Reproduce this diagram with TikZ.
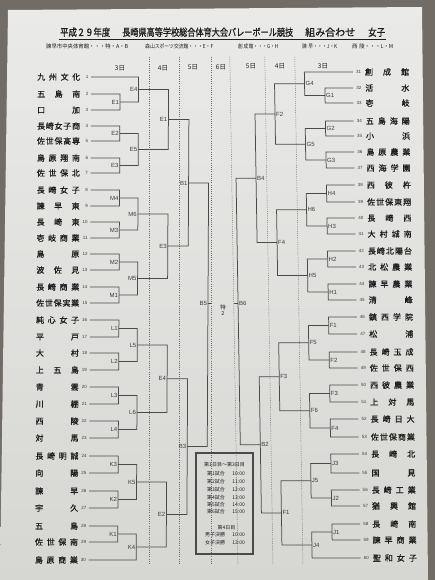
\documentclass[tikz,border=0pt]{standalone}
\usepackage{fontspec}
\newfontfamily\cjk{Noto Sans CJK JP}
\newfontfamily\cjkb{Noto Sans CJK JP}[FakeBold=1.0]
\newfontfamily\lab{Liberation Sans}
\usetikzlibrary{calc}
\definecolor{bgc}{HTML}{726C66}
\definecolor{paperT}{HTML}{EAEAE8}
\definecolor{paperB}{HTML}{D6D6D3}
\definecolor{linec}{HTML}{4A4A4A}
\definecolor{txtc}{HTML}{1E1E1E}
\definecolor{labc}{HTML}{3C3C3C}
\definecolor{sepc}{HTML}{6E6E6E}
\makeatletter
\def\spreadtxt#1{\spread@#1\@nil}
\def\spread@#1#2\@nil{#1\if\relax\detokenize{#2}\relax\else\hfill\spread@#2\@nil\fi}
\makeatother
\tikzset{
  br/.style={draw=linec, line width=0.75pt},
  sepline/.style={draw=sepc, line width=0.45pt, dash pattern=on 1pt off 1.2pt},
  lbl/.style={font=\lab\fontsize{6}{6}\selectfont, text=labc, inner sep=0.9pt},
  tnum/.style={font=\lab\fontsize{4.5}{4.5}\selectfont, text=labc, inner sep=0pt},
  tname/.style={font=\cjkb\fontsize{8}{8}\selectfont, text=txtc, inner sep=0pt},
  hdr/.style={font=\cjk\fontsize{6.5}{6.5}\selectfont, text=txtc, inner sep=0pt},
  boxt/.style={font=\cjk\fontsize{5}{5}\selectfont, text=txtc, inner sep=0pt},
  ttl/.style={text=txtc, inner sep=0pt}
}
\newcommand\Lteam[3]{%
  \node[tname,anchor=west] (nL#1) at (36,#2) {\makebox[43pt]{\spreadtxt{#3}}};
  \node[tnum,anchor=east] (numL#1) at (87.5,#2) {#1};
  \coordinate (t#1) at (90,#2);}
\newcommand\Rteam[3]{%
  \coordinate (t#1) at (356.5,#2);
  \node[tnum,anchor=west] (numR#1) at (359.5,#2) {#1};
  \node[tname,anchor=west] (nR#1) at (368.5,#2) {\makebox[44pt]{\spreadtxt{#3}}};}
\newcommand\Lm[6]{%
  \coordinate (#1) at (#5,#6);
  \draw[br] (#3) -| (#1) |- (#4);
  \node[lbl,anchor=east] (#1l) at (#1) {#2};}
\newcommand\Rm[6]{%
  \coordinate (#1) at (#5,#6);
  \draw[br] (#3) -| (#1) |- (#4);
  \node[lbl,anchor=west] (#1l) at (#1) {#2};}
\begin{document}
\begin{tikzpicture}[x=1pt,y=-1pt]
\useasboundingbox (0,0) rectangle (435,580);
\fill[bgc] (0,0) rectangle (435,580);
\shade[top color=paperT, bottom color=paperB] (8,10) -- (422,7) -- (428,580) -- (0,580) -- cycle;

% title
\node[ttl,anchor=base west] (title1) at (60,36) {\resizebox{50pt}{8.5pt}{\cjkb 平成２９年度}};
\node[ttl,anchor=base west] (title2) at (122,36) {\resizebox{171pt}{8.5pt}{\cjkb 長崎県高等学校総合体育大会バレーボール競技}};
\node[ttl,anchor=base west] (title3) at (305,36) {\resizebox{50pt}{8.5pt}{\cjkb 組み合わせ}};
\node[ttl,anchor=base west] (title4) at (368,36) {\resizebox{17pt}{8.5pt}{\cjkb 女子}};
\draw[draw=txtc, line width=0.5pt] (59,39) -- (386,39);
% venues
\node[ttl,anchor=base west] (ven1) at (46,49) {\resizebox{82pt}{4.6pt}{\cjk 諫早市中央体育館・・・特・A・B}};
\node[ttl,anchor=base west] (ven2) at (145,49) {\resizebox{68pt}{4.6pt}{\cjk 森山スポーツ交流館・・・E・F}};
\node[ttl,anchor=base west] (ven3) at (238,49) {\resizebox{40pt}{4.6pt}{\cjk 創\,成\,館・・・G・H}};
\node[ttl,anchor=base west] (ven4) at (302,49) {\resizebox{35pt}{4.6pt}{\cjk 諫\,\,早・・・J・K}};
\node[ttl,anchor=base west] (ven5) at (352,49) {\resizebox{41pt}{4.6pt}{\cjk 西\,\,陵・・・L・M}};

% day headers
\node[hdr] (h1) at (120,68) {3日};
\node[hdr] (h2) at (163,68) {4日};
\node[hdr] (h3) at (193,67.5) {5日};
\node[hdr] (h4) at (221,67) {6日};
\node[hdr] (h5) at (251,66.5) {5日};
\node[hdr] (h6) at (280,66) {4日};
\node[hdr] (h7) at (323,66) {3日};

% separators left
\draw[sepline] (149,57) -- (149,565);
\draw[sepline] (179,57) -- (179,565);
\draw[sepline] (211,57) -- (211,565);

% ---------------- left side
\begin{scope}[shift={(0,300)}, xslant=0.005, shift={(0,-300)}]
\Lteam{1}{77}{九州文化}
\Lteam{2}{94}{五島南}
\Lteam{3}{110}{口加}
\Lteam{4}{126}{長崎女子商}
\Lteam{5}{141}{佐世保高専}
\Lteam{6}{158}{島原翔南}
\Lteam{7}{173}{佐世保北}
\Lteam{8}{190}{長崎女子}
\Lteam{9}{206}{諫早東}
\Lteam{10}{222}{長崎東}
\Lteam{11}{238}{壱岐商業}
\Lteam{12}{254}{島原}
\Lteam{13}{270}{波佐見}
\Lteam{14}{287}{長崎商業}
\Lteam{15}{303}{佐世保実業}
\Lteam{16}{320}{純心女子}
\Lteam{17}{337}{平戸}
\Lteam{18}{353}{大村}
\Lteam{19}{370}{上五島}
\Lteam{20}{387}{青雲}
\Lteam{21}{404}{川棚}
\Lteam{22}{421}{西陵}
\Lteam{23}{438}{対馬}
\Lteam{24}{456}{長崎明誠}
\Lteam{25}{473}{向陽}
\Lteam{26}{491}{諫早}
\Lteam{27}{508}{宇久}
\Lteam{28}{526}{五島}
\Lteam{29}{542}{佐世保南}
\Lteam{30}{560}{島原商業}

\Lm{LE1}{E1}{t2}{t3}{119}{102}
\Lm{LE4}{E4}{t1}{LE1}{137.5}{89.5}
\Lm{LE2}{E2}{t4}{t5}{119}{133.5}
\Lm{LE3}{E3}{t6}{t7}{119}{165.5}
\Lm{LE5}{E5}{LE2}{LE3}{137.5}{149.5}
\Lm{LdE1}{E1}{LE4}{LE5}{167.5}{119.5}
\Lm{LM4}{M4}{t8}{t9}{119}{198}
\Lm{LM3}{M3}{t10}{t11}{119}{230}
\Lm{LM6}{M6}{LM4}{LM3}{137.5}{214}
\Lm{LM2}{M2}{t12}{t13}{119}{262}
\Lm{LM1}{M1}{t14}{t15}{119}{295}
\Lm{LM5}{M5}{LM2}{LM1}{137.5}{278.5}
\Lm{LdE3}{E3}{LM6}{LM5}{167.5}{246}
\Lm{LB1}{B1}{LdE1}{LdE3}{188}{183}
\Lm{LL1}{L1}{t16}{t17}{119}{328.5}
\Lm{LL2}{L2}{t18}{t19}{119}{361.5}
\Lm{LL5}{L5}{LL1}{LL2}{137.5}{345}
\Lm{LL3}{L3}{t20}{t21}{119}{395.5}
\Lm{LL4}{L4}{t22}{t23}{119}{429.5}
\Lm{LL6}{L6}{LL3}{LL4}{137.5}{412.5}
\Lm{LdE4}{E4}{LL5}{LL6}{167.5}{378.75}
\Lm{LK3}{K3}{t24}{t25}{119}{464.5}
\Lm{LK2}{K2}{t26}{t27}{119}{499.5}
\Lm{LK5}{K5}{LK3}{LK2}{137.5}{482}
\Lm{LK1}{K1}{t28}{t29}{119}{534}
\Lm{LK4}{K4}{LK1}{t30}{137.5}{547}
\Lm{LdE2}{E2}{LK5}{LK4}{167.5}{514.5}
\Lm{LB3}{B3}{LdE4}{LdE2}{188}{446.6}
\Lm{LB5}{B5}{LB1}{LB3}{208}{303}
\coordinate (LB5e) at (212.5,303);
\draw[br] (LB5) -- (LB5e);
\end{scope}

% ---------------- right side
\begin{scope}[shift={(0,300)}, xslant=-0.016, shift={(0,-300)}]
\draw[sepline] (233.7,57) -- (233.7,565);
\draw[sepline] (268.7,57) -- (268.7,565);
\draw[sepline] (298.7,57) -- (298.7,565);
\Rteam{31}{72}{創成館}
\Rteam{32}{88}{活水}
\Rteam{33}{103}{壱岐}
\Rteam{34}{121}{五島海陽}
\Rteam{35}{136}{小浜}
\Rteam{36}{152}{島原農業}
\Rteam{37}{168}{西海学園}
\Rteam{38}{185}{西彼杵}
\Rteam{39}{202}{佐世保東翔}
\Rteam{40}{218}{長崎西}
\Rteam{41}{234}{大村城南}
\Rteam{42}{251}{長崎北陽台}
\Rteam{43}{267}{北松農業}
\Rteam{44}{284}{諫早農業}
\Rteam{45}{300}{清峰}
\Rteam{46}{317}{鎮西学院}
\Rteam{47}{334}{松浦}
\Rteam{48}{352}{長崎玉成}
\Rteam{49}{368}{佐世保西}
\Rteam{50}{385}{西彼農業}
\Rteam{51}{402}{上対馬}
\Rteam{52}{419}{長崎日大}
\Rteam{53}{437}{佐世保商業}
\Rteam{54}{454}{長崎北}
\Rteam{55}{473}{国見}
\Rteam{56}{490}{長崎工業}
\Rteam{57}{506}{猶興館}
\Rteam{58}{524}{長崎南}
\Rteam{59}{540}{諫早商業}
\Rteam{60}{558}{聖和女子}

\Rm{RG1}{G1}{t32}{t33}{328.3}{95.5}
\Rm{RG4}{G4}{t31}{RG1}{308}{83.75}
\Rm{RG2}{G2}{t34}{t35}{328.3}{128.5}
\Rm{RG3}{G3}{t36}{t37}{328.3}{160}
\Rm{RG5}{G5}{RG2}{RG3}{308}{144.25}
\Rm{RdF2}{F2}{RG4}{RG5}{278}{114}
\Rm{RH4}{H4}{t38}{t39}{328.3}{193.5}
\Rm{RH3}{H3}{t40}{t41}{328.3}{226}
\Rm{RH6}{H6}{RH4}{RH3}{308}{209.75}
\Rm{RH2}{H2}{t42}{t43}{328.3}{259}
\Rm{RH1}{H1}{t44}{t45}{328.3}{292}
\Rm{RH5}{H5}{RH2}{RH1}{308}{275.5}
\Rm{RdF4}{F4}{RH6}{RH5}{278}{242.6}
\Rm{RB4}{B4}{RdF2}{RdF4}{258}{178.3}
\Rm{RF1}{F1}{t46}{t47}{328.3}{325.5}
\Rm{RF2}{F2}{t48}{t49}{328.3}{360}
\Rm{RF5}{F5}{RF1}{RF2}{308}{342.75}
\Rm{RF3}{F3}{t50}{t51}{328.3}{393.5}
\Rm{RF4}{F4}{t52}{t53}{328.3}{428}
\Rm{RF6}{F6}{RF3}{RF4}{308}{410.75}
\Rm{RdF3}{F3}{RF5}{RF6}{278}{376.75}
\Rm{RJ3}{J3}{t54}{t55}{328.3}{463.5}
\Rm{RJ2}{J2}{t56}{t57}{328.3}{498}
\Rm{RJ5}{J5}{RJ3}{RJ2}{308}{480.75}
\Rm{RJ1}{J1}{t58}{t59}{328.3}{532}
\Rm{RJ4}{J4}{RJ1}{t60}{308}{545}
\Rm{RdF1}{F1}{RJ5}{RJ4}{278}{512.9}
\Rm{RB2}{B2}{RdF3}{RdF1}{258}{444.8}
\Rm{RB6}{B6}{RB4}{RB2}{238}{303}
\coordinate (RB6e) at (233.5,303);
\draw[br] (RB6) -- (RB6e);
\end{scope}

% final
\node[boxt, font=\cjk\fontsize{5.5}{6.5}\selectfont, align=center] (fin) at (223,310) {特\\2};

% schedule box
\draw[draw=linec, line width=1.3pt] (196,453) rectangle (253,554);
\node[boxt] (sch0) at (224.5,465) {第1日目～第3日目};
\node[boxt,anchor=west] (s1a) at (207,474) {第1試合};
\node[boxt,anchor=east] (s1b) at (245,474) {10:00};
\node[boxt,anchor=west] (s2a) at (207,482) {第2試合};
\node[boxt,anchor=east] (s2b) at (245,482) {11:00};
\node[boxt,anchor=west] (s3a) at (207,490) {第3試合};
\node[boxt,anchor=east] (s3b) at (245,490) {12:00};
\node[boxt,anchor=west] (s4a) at (207,498) {第4試合};
\node[boxt,anchor=east] (s4b) at (245,498) {13:00};
\node[boxt,anchor=west] (s5a) at (207,505) {第5試合};
\node[boxt,anchor=east] (s5b) at (245,505) {14:00};
\node[boxt,anchor=west] (s6a) at (207,512) {第6試合};
\node[boxt,anchor=east] (s6b) at (245,512) {15:00};
\node[boxt] (sch4) at (226.5,528) {第4日目};
\node[boxt,anchor=west] (m1a) at (205,535) {男子決勝};
\node[boxt,anchor=east] (m1b) at (245,535) {10:00};
\node[boxt,anchor=west] (m2a) at (205,543) {女子決勝};
\node[boxt,anchor=east] (m2b) at (245,543) {13:00};
\end{tikzpicture}
\end{document}
